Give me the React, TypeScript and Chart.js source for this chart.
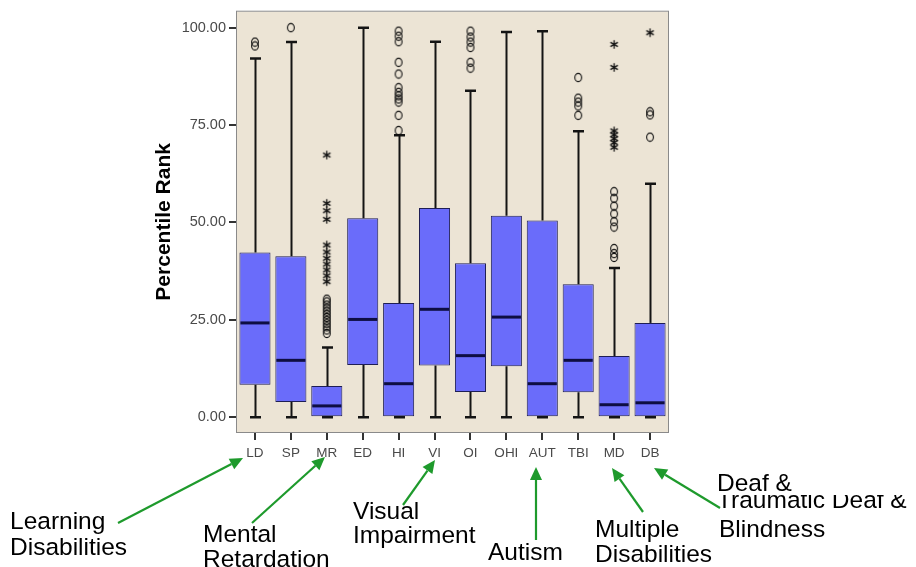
import { useEffect, useRef } from 'react';
import { Chart, registerables } from 'chart.js';

Chart.register(...registerables);

// ---------- data ----------
const categories = ['LD', 'SP', 'MR', 'ED', 'HI', 'VI', 'OI', 'OHI', 'AUT', 'TBI', 'MD', 'DB'];
const whiskerLow = [0, 0, 0, 0, 0, 0, 0, 0, 0, 0, 0, 0];
const q1 = [8.3, 3.9, 0, 13.4, 0, 13.3, 6.5, 13.1, 0, 6.4, 0, 0];
const medians = [24.2, 14.6, 2.9, 25.1, 8.6, 27.7, 15.8, 25.7, 8.6, 14.6, 3.2, 3.7];
const q3 = [42.3, 41.3, 8.0, 51.1, 29.3, 53.7, 39.5, 51.7, 50.5, 34.1, 15.7, 24.2];
const whiskerHigh = [92.1, 96.3, 17.9, 100, 72.4, 96.4, 83.8, 98.9, 99.1, 73.4, 38.3, 59.9];

const circleOutliers: [string, number][] = [
  ['LD', 95.3], ['LD', 96.3],
  ['SP', 100],
  ['MR', 21.5], ['MR', 22.4], ['MR', 23.2], ['MR', 24.0], ['MR', 24.8], ['MR', 25.6],
  ['MR', 26.4], ['MR', 27.2], ['MR', 28.0], ['MR', 28.8], ['MR', 29.6], ['MR', 30.3],
  ['HI', 99.1], ['HI', 97.8], ['HI', 96.4], ['HI', 91.1], ['HI', 88.1], ['HI', 84.6],
  ['HI', 83.4], ['HI', 82.5], ['HI', 81.7], ['HI', 80.9], ['HI', 77.5], ['HI', 73.6],
  ['OI', 99.1], ['OI', 97.6], ['OI', 96.3], ['OI', 94.9], ['OI', 91.1], ['OI', 89.6],
  ['TBI', 87.2], ['TBI', 81.9], ['TBI', 80.9], ['TBI', 79.9], ['TBI', 77.5],
  ['MD', 57.9], ['MD', 56.2], ['MD', 54.2], ['MD', 52.2], ['MD', 50.2], ['MD', 48.8],
  ['MD', 43.3], ['MD', 42.0], ['MD', 41.0],
  ['DB', 78.4], ['DB', 77.6], ['DB', 71.9],
];

const starOutliers: [string, number][] = [
  ['MR', 67.3], ['MR', 54.9], ['MR', 53.0], ['MR', 50.8], ['MR', 44.2], ['MR', 42.4],
  ['MR', 40.8], ['MR', 39.3], ['MR', 37.8], ['MR', 36.3], ['MR', 34.8],
  ['MD', 95.7], ['MD', 89.8], ['MD', 73.5], ['MD', 72.5], ['MD', 71.5], ['MD', 70.5], ['MD', 69.3],
  ['DB', 98.7],
];

const yTicks = [0, 25, 50, 75, 100];
const yMin = -3.8;
const yMax = 104.1;

// ---------- annotations (layout) ----------
const noteFont = "24.5px 'Liberation Sans', Arial, sans-serif";
const notes = [
  { lines: ['Learning', 'Disabilities'], x: 10, y: 529, lh: 26 },
  { lines: ['Mental', 'Retardation'], x: 203, y: 542, lh: 25 },
  { lines: ['Visual', 'Impairment'], x: 353, y: 519, lh: 24 },
  { lines: ['Autism'], x: 488, y: 560, lh: 25 },
  { lines: ['Multiple', 'Disabilities'], x: 595, y: 537, lh: 25 },
  { lines: ['Deaf &'], x: 717, y: 491, lh: 25 },
  { lines: ['Blindness'], x: 719, y: 537, lh: 25 },
];
const clippedNote = { text: 'Traumatic Deaf &', x: 717, y: 508, clipTop: 495 };
const arrows = [
  [118, 523, 243, 458],
  [252, 523, 325, 457],
  [403, 505, 435, 460],
  [536, 540, 536, 467],
  [643, 512, 612, 468],
  [720, 508, 654, 468],
];

const BG = '#ece4d5';
const BOX = '#6a6cfa';
const BOX_EDGE = '#1e1e55';

function makeStar(): HTMLCanvasElement {
  const c = document.createElement('canvas');
  c.width = 11; c.height = 11;
  const g = c.getContext('2d')!;
  g.strokeStyle = '#111';
  g.lineWidth = 1.3;
  const cx = 5.5, cy = 5.5, r = 4.3;
  g.beginPath();
  g.moveTo(cx, cy - r); g.lineTo(cx, cy + r);
  const dx = r * Math.cos(Math.PI / 6), dy = r * Math.sin(Math.PI / 6);
  g.moveTo(cx - dx, cy - dy); g.lineTo(cx + dx, cy + dy);
  g.moveTo(cx - dx, cy + dy); g.lineTo(cx + dx, cy - dy);
  g.stroke();
  return c;
}

function makeCircle(): HTMLCanvasElement {
  const c = document.createElement('canvas');
  c.width = 10; c.height = 11;
  const g = c.getContext('2d')!;
  g.strokeStyle = '#111';
  g.lineWidth = 1.1;
  g.beginPath();
  g.ellipse(5, 5.5, 3.4, 4.1, 0, 0, Math.PI * 2);
  g.stroke();
  return c;
}

const boxPlugin = {
  id: 'boxWhiskers',
  beforeDatasetsDraw(chart: any) {
    const { ctx, chartArea: a } = chart;
    const x = chart.scales.x;
    const y = chart.scales.y;
    ctx.save();
    ctx.fillStyle = BG;
    ctx.fillRect(a.left, a.top, a.right - a.left, a.bottom - a.top);
    ctx.strokeStyle = '#8a8a8a';
    ctx.lineWidth = 1;
    ctx.strokeRect(a.left - 0.5, a.top - 0.5, a.right - a.left + 1, a.bottom - a.top + 1);

    ctx.strokeStyle = '#141414';
    categories.forEach((_, i) => {
      const px = Math.round(x.getPixelForValue(i)) + 0.5;
      const yHi = y.getPixelForValue(whiskerHigh[i]);
      const yQ3 = y.getPixelForValue(q3[i]);
      const yQ1 = y.getPixelForValue(q1[i]);
      const yLo = y.getPixelForValue(whiskerLow[i]);
      ctx.lineWidth = 2;
      ctx.beginPath();
      ctx.moveTo(px, yQ3); ctx.lineTo(px, yHi);
      ctx.moveTo(px, yQ1); ctx.lineTo(px, yLo);
      ctx.stroke();
      ctx.lineWidth = 2.5;
      ctx.beginPath();
      ctx.moveTo(px - 5.5, yHi); ctx.lineTo(px + 5.5, yHi);
      ctx.moveTo(px - 5.5, yLo); ctx.lineTo(px + 5.5, yLo);
      ctx.stroke();
    });
    ctx.restore();
  },
  afterDatasetsDraw(chart: any) {
    const { ctx } = chart;
    const y = chart.scales.y;
    const meta = chart.getDatasetMeta(0);
    ctx.save();
    ctx.strokeStyle = '#0e0e42';
    ctx.lineWidth = 3;
    categories.forEach((_, i) => {
      const bar = meta.data[i];
      const w = bar.width;
      const py = y.getPixelForValue(medians[i]);
      ctx.beginPath();
      ctx.moveTo(bar.x - w / 2 + 1, py);
      ctx.lineTo(bar.x + w / 2 - 1, py);
      ctx.stroke();
    });
    ctx.restore();
  },
  afterDraw(chart: any) {
    const { ctx } = chart;
    ctx.save();
    // arrows
    ctx.strokeStyle = '#1e9a2c';
    ctx.fillStyle = '#1e9a2c';
    ctx.lineWidth = 2.2;
    arrows.forEach(([x0, y0, x1, y1]) => {
      const ang = Math.atan2(y1 - y0, x1 - x0);
      const L = 13, H = 6;
      const bx = x1 - L * Math.cos(ang), by = y1 - L * Math.sin(ang);
      ctx.beginPath();
      ctx.moveTo(x0, y0); ctx.lineTo(bx, by);
      ctx.stroke();
      ctx.beginPath();
      ctx.moveTo(x1, y1);
      ctx.lineTo(bx + H * Math.sin(ang), by - H * Math.cos(ang));
      ctx.lineTo(bx - H * Math.sin(ang), by + H * Math.cos(ang));
      ctx.closePath();
      ctx.fill();
    });
    // texts
    ctx.fillStyle = '#000';
    ctx.font = noteFont;
    ctx.textBaseline = 'alphabetic';
    ctx.textAlign = 'left';
    notes.forEach((n) => {
      n.lines.forEach((t, k) => ctx.fillText(t, n.x, n.y + k * n.lh));
    });
    ctx.save();
    ctx.beginPath();
    ctx.rect(0, clippedNote.clipTop, chart.width, chart.height - clippedNote.clipTop);
    ctx.clip();
    ctx.fillText(clippedNote.text, clippedNote.x, clippedNote.y);
    ctx.restore();
    ctx.restore();
  },
};

export default function App() {
  const ref = useRef<HTMLCanvasElement | null>(null);
  useEffect(() => {
    if (!ref.current) return;
    const star = makeStar();
    const circ = makeCircle();
    const fam = "'Liberation Sans', Arial, sans-serif";
    const chart = new Chart(ref.current, {
      type: 'bar',
      data: {
        labels: categories,
        datasets: [
          {
            type: 'bar',
            data: q1.map((v, i) => [v, q3[i]]) as any,
            backgroundColor: BOX,
            borderColor: BOX_EDGE,
            borderWidth: 1,
            borderSkipped: false,
            barPercentage: 0.865,
            categoryPercentage: 1,
          } as any,
          {
            type: 'scatter',
            data: circleOutliers.map(([c, v]) => ({ x: c, y: v })) as any,
            pointStyle: circ,
            pointRadius: 4,
          } as any,
          {
            type: 'scatter',
            data: starOutliers.map(([c, v]) => ({ x: c, y: v })) as any,
            pointStyle: star,
            pointRadius: 4,
          } as any,
        ],
      },
      options: {
        responsive: false,
        animation: false,
        layout: { padding: { left: 148, top: 9, right: 248, bottom: 95 } },
        plugins: { legend: { display: false }, tooltip: { enabled: false } },
        scales: {
          x: {
            type: 'category',
            offset: true,
            border: { display: false },
            grid: {
              offset: false,
              drawOnChartArea: false,
              drawTicks: true,
              tickLength: 8,
              color: '#333',
              lineWidth: 2,
            },
            ticks: { font: { family: fam, size: 13.5 }, color: '#4a4a4a', padding: 5, autoSkip: false, maxRotation: 0 },
            afterFit: (s: any) => { s.height = 40; },
          },
          y: {
            type: 'linear',
            min: yMin,
            max: yMax,
            border: { display: false },
            grid: {
              drawOnChartArea: false,
              drawTicks: true,
              tickLength: 8,
              color: '#333',
              lineWidth: 2,
            },
            afterBuildTicks: (s: any) => { s.ticks = yTicks.map((v) => ({ value: v })); },
            ticks: {
              font: { family: fam, size: 14.5 },
              color: '#4a4a4a',
              padding: 3,
              callback: (v: any) => Number(v).toFixed(2),
            },
            title: {
              display: true,
              text: 'Percentile Rank',
              color: '#000',
              font: { family: fam, size: 21, weight: 'bold' },
              padding: { top: 4, bottom: 0 },
            },
            afterFit: (s: any) => { s.width = 89; },
          },
        },
      } as any,
      plugins: [boxPlugin],
    });
    return () => chart.destroy();
  }, []);

  return (
    <div style={{ position: 'fixed', left: 0, top: 0, width: 916, height: 567, background: '#fff' }}>
      <canvas ref={ref} width={916} height={567} style={{ display: 'block' }} />
    </div>
  );
}
